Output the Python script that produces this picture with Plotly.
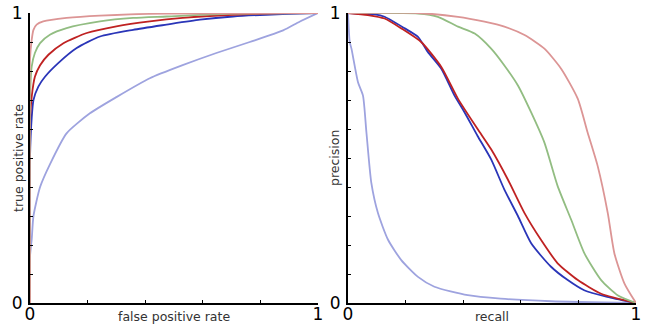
import plotly.graph_objects as go

# ---------------- data ----------------
# ROC curves (false positive rate, true positive rate)
roc_pink_x = [0, 0, 0.006, 0.012, 0.023, 0.046, 0.127, 0.243, 0.474, 1.0]
roc_pink_y = [0, 0.84, 0.908, 0.942, 0.96, 0.971, 0.983, 0.991, 0.998, 1.0]

roc_green_x = [0, 0, 0.006, 0.017, 0.035, 0.069, 0.127, 0.243, 0.358, 0.474, 0.705, 1.0]
roc_green_y = [0, 0.70, 0.816, 0.862, 0.896, 0.925, 0.948, 0.971, 0.983, 0.988, 0.998, 1.0]

roc_red_x = [0, 0, 0.006, 0.017, 0.035, 0.064, 0.116, 0.197, 0.30, 0.416, 0.53, 0.705, 0.88, 1.0]
roc_red_y = [0, 0.63, 0.712, 0.78, 0.82, 0.856, 0.896, 0.931, 0.954, 0.971, 0.983, 0.994, 1.0, 1.0]

roc_blue_x = [0, 0, 0.006, 0.012, 0.029, 0.052, 0.098, 0.162, 0.243, 0.358, 0.474, 0.59, 0.705, 0.82, 0.936, 1.0]
roc_blue_y = [0, 0.50, 0.64, 0.70, 0.746, 0.78, 0.827, 0.879, 0.919, 0.942, 0.96, 0.977, 0.988, 0.994, 0.998, 1.0]

roc_lblue_x = [0, 0, 0.006, 0.012, 0.035, 0.07, 0.127, 0.208, 0.30, 0.416, 0.53, 0.647, 0.763, 0.879, 0.936, 1.0]
roc_lblue_y = [0, 0.16, 0.22, 0.30, 0.40, 0.48, 0.585, 0.654, 0.71, 0.775, 0.82, 0.862, 0.90, 0.94, 0.97, 1.0]

# Precision-recall curves (recall, precision)
pr_pink_x = [0, 0.243, 0.382, 0.474, 0.543, 0.613, 0.682, 0.74, 0.798, 0.832, 0.867, 0.902, 0.925, 0.96, 1.0]
pr_pink_y = [1.0, 1.0, 0.987, 0.97, 0.953, 0.924, 0.877, 0.808, 0.704, 0.588, 0.472, 0.31, 0.171, 0.067, 0.0]

pr_green_x = [0, 0.243, 0.312, 0.382, 0.44, 0.497, 0.543, 0.59, 0.636, 0.682, 0.728, 0.775, 0.821, 0.879, 0.936, 1.0]
pr_green_y = [1.0, 0.998, 0.987, 0.953, 0.929, 0.877, 0.819, 0.75, 0.657, 0.553, 0.403, 0.287, 0.171, 0.079, 0.027, 0.0]

pr_red_x = [0, 0.069, 0.127, 0.185, 0.254, 0.324, 0.382, 0.45, 0.497, 0.555, 0.613, 0.67, 0.728, 0.798, 0.879, 1.0]
pr_red_y = [1.0, 0.993, 0.981, 0.947, 0.90, 0.814, 0.704, 0.60, 0.53, 0.426, 0.31, 0.218, 0.137, 0.079, 0.032, 0.0]

pr_blue_x = [0, 0.092, 0.127, 0.197, 0.243, 0.277, 0.324, 0.37, 0.405, 0.45, 0.497, 0.543, 0.59, 0.636, 0.705, 0.763, 0.82, 0.90, 1.0]
pr_blue_y = [1.0, 0.995, 0.987, 0.947, 0.918, 0.866, 0.808, 0.715, 0.657, 0.576, 0.495, 0.391, 0.30, 0.206, 0.125, 0.079, 0.044, 0.021, 0.0]

pr_lblue_x = [0, 0.006, 0.012, 0.035, 0.052, 0.064, 0.081, 0.104, 0.139, 0.185, 0.243, 0.30, 0.416, 0.53, 0.705, 1.0]
pr_lblue_y = [1.0, 0.90, 0.877, 0.76, 0.715, 0.588, 0.414, 0.31, 0.218, 0.148, 0.09, 0.056, 0.027, 0.015, 0.006, 0.0]

tick_vals = [0, 1]
tick_text = ["0", "1"]
minor_x = [0.2, 0.4, 0.6, 0.8]
minor_y = [0.1, 0.2, 0.3, 0.4, 0.5, 0.6, 0.7, 0.8, 0.9]

col_lblue = "#9ea3df"
col_blue = "#2a35b8"
col_red = "#bf2222"
col_green = "#92bd82"
col_pink = "#dc9595"

fig = go.Figure()

roc = [(roc_lblue_x, roc_lblue_y, col_lblue), (roc_blue_x, roc_blue_y, col_blue),
       (roc_red_x, roc_red_y, col_red), (roc_green_x, roc_green_y, col_green),
       (roc_pink_x, roc_pink_y, col_pink)]
pr = [(pr_lblue_x, pr_lblue_y, col_lblue), (pr_blue_x, pr_blue_y, col_blue),
      (pr_red_x, pr_red_y, col_red), (pr_green_x, pr_green_y, col_green),
      (pr_pink_x, pr_pink_y, col_pink)]

for x, y, c in roc:
    fig.add_trace(go.Scatter(x=x, y=y, mode="lines", line=dict(color=c, width=1.8, shape="spline", smoothing=0.6),
                             xaxis="x", yaxis="y", showlegend=False, cliponaxis=False))
for x, y, c in pr:
    fig.add_trace(go.Scatter(x=x, y=y, mode="lines", line=dict(color=c, width=1.8, shape="spline", smoothing=0.6),
                             xaxis="x2", yaxis="y2", showlegend=False, cliponaxis=False))

W, H = 648, 327
L, R, T, B = 0, 0, 13, 24

def xd(px):
    return px / W

axis_common = dict(range=[0, 1], showgrid=False, zeroline=False, showline=True, automargin=False,
                   linecolor="black", linewidth=2, tickmode="array", tickvals=tick_vals,
                   ticktext=tick_text, ticks="", tickfont=dict(size=17, color="black",
                   family="DejaVu Sans"), fixedrange=True)

minor_common = dict(ticks="inside", ticklen=3, tickcolor="black", tickwidth=1)

fig.update_layout(
    width=W, height=H,
    margin=dict(l=L, r=R, t=T, b=B, autoexpand=False),
    paper_bgcolor="white", plot_bgcolor="white",
    xaxis=dict(domain=[xd(30), xd(318)], anchor="y",
               minor=dict(tickvals=minor_x, **minor_common),
               ticklabelstandoff=-5, **axis_common),
    yaxis=dict(domain=[0, 1], anchor="x",
               minor=dict(tickvals=minor_y, **minor_common),
               ticklabelstandoff=2, **axis_common),
    xaxis2=dict(domain=[xd(348), xd(636)], anchor="y2",
                minor=dict(tickvals=minor_x, **minor_common),
                ticklabelstandoff=-5, **axis_common),
    yaxis2=dict(domain=[0, 1], anchor="x2",
                minor=dict(tickvals=minor_y, **minor_common),
                ticklabelstandoff=2, **axis_common),
)

title_font = dict(size=12.5, color="#333333", family="DejaVu Sans")
fig.add_annotation(text="false positive rate", xref="x", yref="paper", x=0.5, y=0,
                   yshift=-13, xanchor="center", yanchor="middle", showarrow=False, font=title_font)
fig.add_annotation(text="recall", xref="x2", yref="paper", x=0.5, y=0,
                   yshift=-13, xanchor="center", yanchor="middle", showarrow=False, font=title_font)
fig.add_annotation(text="true positive rate", xref="paper", yref="y", x=xd(18), y=0.5,
                   xanchor="center", yanchor="middle",
                   textangle=-90, showarrow=False, font=title_font)
fig.add_annotation(text="precision", xref="paper", yref="y2", x=xd(334), y=0.5,
                   xanchor="center", yanchor="middle",
                   textangle=-90, showarrow=False, font=title_font)

fig.write_html("out.html", config={"displayModeBar": False},
               post_script="document.body.style.margin='0';document.body.style.overflow='hidden';")
